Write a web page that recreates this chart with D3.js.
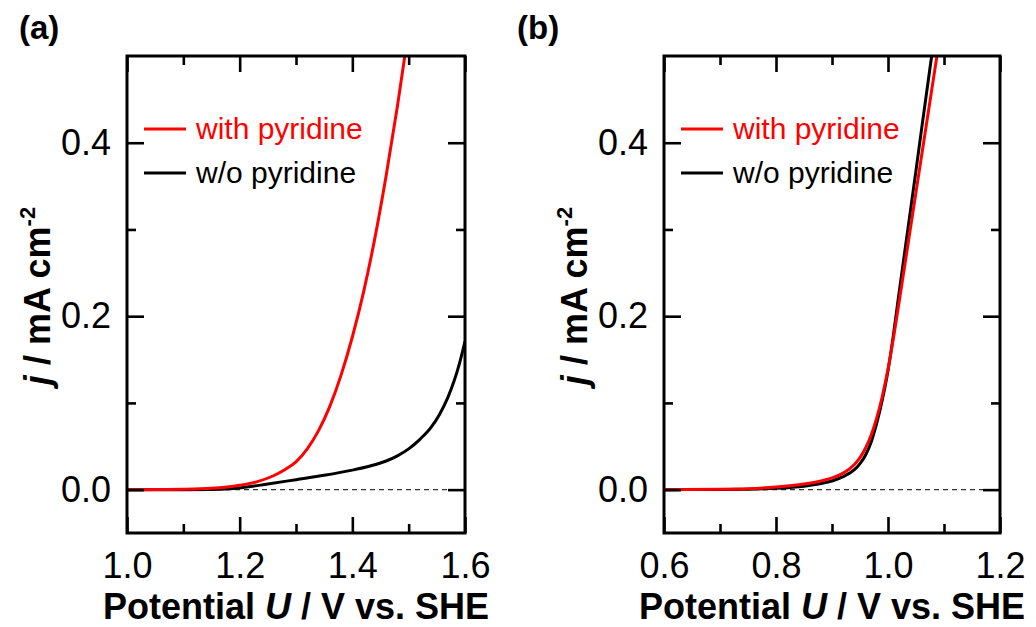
<!DOCTYPE html>
<html>
<head>
<meta charset="utf-8">
<script src="https://cdn.jsdelivr.net/npm/d3@7"></script>
<style>
  body { margin: 0; background: #fff; }
  svg { display: block; font-family: "Liberation Sans", Arial, sans-serif; }
</style>
</head>
<body>
<svg id="chart" width="1036" height="627"></svg>
<script>
// panel (a) data, potential in V vs. SHE, current density in mA cm^-2
const potWithA = [1.0, 1.05, 1.1, 1.15, 1.2, 1.23, 1.26, 1.28, 1.30, 1.32, 1.34, 1.36, 1.38, 1.40, 1.42, 1.44, 1.46, 1.48, 1.50]
const jWithA   = [0, 0.0001, 0.0004, 0.0015, 0.005, 0.009, 0.016, 0.023, 0.032, 0.047, 0.068, 0.096, 0.132, 0.176, 0.228, 0.290, 0.362, 0.442, 0.530]
const potWoA = [1.0, 1.1, 1.15, 1.2, 1.25, 1.30, 1.35, 1.40, 1.43, 1.46, 1.48, 1.50, 1.52, 1.54, 1.555, 1.57, 1.58, 1.59, 1.60]
const jWoA   = [0, 0, 0.0003, 0.002, 0.0065, 0.0115, 0.0165, 0.0225, 0.027, 0.033, 0.039, 0.047, 0.058, 0.072, 0.087, 0.107, 0.124, 0.145, 0.171]

// panel (b) data
const potWithB = [0.6, 0.7, 0.75, 0.8, 0.85, 0.88, 0.90, 0.92, 0.94, 0.95, 0.96, 0.97, 0.98, 0.99, 1.00, 1.01, 1.02, 1.04, 1.06, 1.08, 1.09]
const jWithB   = [0, 0.0004, 0.001, 0.003, 0.0065, 0.010, 0.0135, 0.019, 0.029, 0.037, 0.048, 0.063, 0.083, 0.108, 0.139, 0.176, 0.217, 0.301, 0.385, 0.469, 0.511]
const potWoB = [0.6, 0.7, 0.75, 0.8, 0.85, 0.88, 0.90, 0.92, 0.94, 0.95, 0.96, 0.97, 0.98, 0.99, 1.00, 1.01, 1.02, 1.05, 1.0762, 1.085]
const jWoB   = [0, 0.0002, 0.0005, 0.0015, 0.004, 0.007, 0.010, 0.015, 0.023, 0.030, 0.040, 0.055, 0.077, 0.104, 0.137, 0.180, 0.228, 0.368, 0.492, 0.530]

const xTicksA = [1.0, 1.2, 1.4, 1.6]
const xMinorA = [1.1, 1.3, 1.5]
const xTicksB = [0.6, 0.8, 1.0, 1.2]
const xMinorB = [0.7, 0.9, 1.1]
const yTicks = [0.0, 0.2, 0.4]
const yMinor = [0.1, 0.3]

const seriesNames = ["with pyridine", "w/o pyridine"]
const seriesColors = ["#ff0000", "#000000"]

const svg = d3.select("#chart")

function drawPanel(opt) {
    const x = d3.scaleLinear().domain(opt.xDomain).range([opt.left, opt.right])
    const y = d3.scaleLinear().domain([-0.05, 0.5]).range([533, 56])
    const g = svg.append("g")

    g.append("clipPath").attr("id", "clip" + opt.id)
     .append("rect")
     .attr("x", opt.left).attr("y", 56)
     .attr("width", opt.right - opt.left).attr("height", 533 - 56)

    // dashed zero line
    g.append("line")
     .attr("x1", x(opt.xDomain[0])).attr("x2", x(opt.xDomain[1]))
     .attr("y1", y(0)).attr("y2", y(0))
     .attr("stroke", "#333").attr("stroke-width", 1.3)
     .attr("stroke-dasharray", "5,4")

    const line = d3.line()
                   .x(d => x(d[0]))
                   .y(d => y(d[1]))
                   .curve(d3.curveMonotoneX)

    const series = [
        d3.zip(opt.potWo, opt.jWo),
        d3.zip(opt.potWith, opt.jWith)
    ]
    const colors = [seriesColors[1], seriesColors[0]]

    g.append("g").attr("clip-path", "url(#clip" + opt.id + ")")
     .selectAll("path").data(series).join("path")
     .attr("d", line)
     .attr("fill", "none")
     .attr("stroke", (d, i) => colors[i])
     .attr("stroke-width", 3)

    // axes, ticks pointing inward
    const styleAxis = sel => {
        sel.select(".domain").remove()
        sel.selectAll("line").attr("stroke-width", 2.6)
        sel.selectAll("text").attr("font-size", 36).attr("fill", "#000")
    }
    const fmt = d3.format(".1f")

    g.append("g").attr("transform", "translate(0,533)")
     .call(d3.axisBottom(x).tickValues(opt.xTicks).tickSize(-16).tickPadding(19).tickFormat(fmt))
     .call(styleAxis)
    g.append("g").attr("transform", "translate(0,533)")
     .call(d3.axisBottom(x).tickValues(opt.xMinor).tickSize(-9).tickFormat(""))
     .call(styleAxis)
    g.append("g").attr("transform", "translate(0,56)")
     .call(d3.axisTop(x).tickValues(opt.xTicks).tickSize(-16).tickFormat(""))
     .call(styleAxis)
    g.append("g").attr("transform", "translate(0,56)")
     .call(d3.axisTop(x).tickValues(opt.xMinor).tickSize(-9).tickFormat(""))
     .call(styleAxis)

    g.append("g").attr("transform", "translate(" + opt.left + ",0)")
     .call(d3.axisLeft(y).tickValues(yTicks).tickSize(-17).tickPadding(16).tickFormat(fmt))
     .call(styleAxis)
    g.append("g").attr("transform", "translate(" + opt.left + ",0)")
     .call(d3.axisLeft(y).tickValues(yMinor).tickSize(-9).tickFormat(""))
     .call(styleAxis)
    g.append("g").attr("transform", "translate(" + opt.right + ",0)")
     .call(d3.axisRight(y).tickValues(yTicks).tickSize(-17).tickFormat(""))
     .call(styleAxis)
    g.append("g").attr("transform", "translate(" + opt.right + ",0)")
     .call(d3.axisRight(y).tickValues(yMinor).tickSize(-9).tickFormat(""))
     .call(styleAxis)

    // frame
    g.append("rect")
     .attr("x", opt.left).attr("y", 56)
     .attr("width", opt.right - opt.left).attr("height", 533 - 56)
     .attr("fill", "none").attr("stroke", "#000").attr("stroke-width", 3)

    // legend
    const leg = g.append("g").selectAll("g").data(seriesNames).join("g")
                 .attr("transform", (d, i) => "translate(" + (opt.left + 17) + "," + (129 + i * 44) + ")")
    leg.append("line")
       .attr("x1", 0).attr("x2", 42)
       .attr("stroke", (d, i) => seriesColors[i]).attr("stroke-width", 3)
    leg.append("text")
       .attr("x", 52).attr("y", 10)
       .attr("font-size", 30)
       .attr("fill", (d, i) => seriesColors[i])
       .text(d => d)

    // x title
    const xt = g.append("text")
                .attr("x", (opt.left + opt.right) / 2).attr("y", 619)
                .attr("text-anchor", "middle")
                .attr("font-size", 36).attr("font-weight", "bold")
    xt.append("tspan").text("Potential ")
    xt.append("tspan").attr("font-style", "italic").text("U")
    xt.append("tspan").text(" / V vs. SHE")

    // y title
    const yt = g.append("text")
                .attr("transform", "translate(" + (opt.left - 77) + ",296) rotate(-90)")
                .attr("text-anchor", "middle")
                .attr("font-size", 36).attr("font-weight", "bold")
    yt.append("tspan").attr("font-style", "italic").text("j")
    yt.append("tspan").text(" / mA cm")
    yt.append("tspan").attr("font-size", 22).attr("dy", -15).text("-2")

    // panel label
    g.append("text")
     .attr("x", opt.labelX).attr("y", 39)
     .attr("font-size", 33).attr("font-weight", "bold")
     .text(opt.label)
}

drawPanel({
    id: "a", label: "(a)", labelX: 19,
    left: 127, right: 465, xDomain: [1.0, 1.6],
    xTicks: xTicksA, xMinor: xMinorA,
    potWith: potWithA, jWith: jWithA, potWo: potWoA, jWo: jWoA
})

drawPanel({
    id: "b", label: "(b)", labelX: 517,
    left: 664, right: 1000, xDomain: [0.6, 1.2],
    xTicks: xTicksB, xMinor: xMinorB,
    potWith: potWithB, jWith: jWithB, potWo: potWoB, jWo: jWoB
})
</script>
</body>
</html>
